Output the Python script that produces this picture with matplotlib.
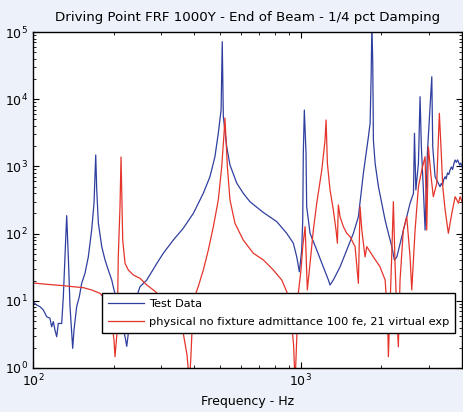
import matplotlib
matplotlib.use("Agg")
import matplotlib.pyplot as plt
from matplotlib.ticker import NullFormatter

# Test data (blue)
test_freq = [100, 103.2, 106.2, 109.3, 112.5, 115.7, 117.4, 119.1, 120.8, 122.6,
             124.3, 128, 129.8, 131.7, 133.6, 135.5, 137.5, 139.5, 140.7, 142.3,
             145.6, 148.9, 152, 156.4, 160.9, 165.6, 169, 171.5, 173, 175.4,
             180.6, 185.8, 191.1, 196.8, 200.7, 204.2, 211.3, 220.7, 223.9, 227,
             234.4, 251, 266, 290, 306.6, 334, 364, 397, 432.5, 458,
             478, 492, 504, 509, 513.8, 529, 544, 577, 610, 646,
             725, 813, 886, 938, 966, 988, 1008, 1017, 1022, 1031,
             1046, 1052, 1083, 1147, 1214, 1268, 1286, 1323, 1402, 1485,
             1572, 1641, 1713, 1789, 1815, 1831, 1843, 1857, 1867, 1895,
             1950, 2007, 2065, 2124, 2188, 2237, 2284, 2384, 2453, 2559,
             2635, 2658, 2690, 2750, 2789, 2820, 2870, 2912, 2970, 3085,
             3110, 3173, 3311, 3350, 3380, 3420, 3460, 3490, 3530, 3570,
             3610, 3650, 3690, 3730, 3770, 3810, 3850, 3880, 3920, 3960,
             3993, 4050]
test_mag = [9.7, 8.66, 8.17, 7.3, 5.8, 5.5, 4.1, 4.9, 3.68, 2.92,
            4.6, 4.6, 11.5, 45, 185, 45, 8.2, 3.3, 1.96, 3.7,
            8.2, 11.5, 18.2, 25.7, 45, 113, 283, 1480, 446, 144,
            64, 40.5, 28.7, 20.4, 14.5, 11.5, 6.1, 2.92, 2.1, 3.3,
            7.3, 16.2, 20.4, 36, 51, 80, 120, 200, 398, 703,
            1394, 3110, 6900, 71800, 5500, 1960, 1050, 561, 398, 298,
            206, 151, 101, 72, 45, 27, 57, 159, 1580, 6900,
            1580, 251, 101, 57, 32, 20.4, 17.2, 20.4, 32, 57,
            101, 178, 789, 2770, 4380, 21600, 130000, 34200, 2470, 1110,
            499, 283, 159, 101, 64, 40.5, 45, 90, 142, 283,
            398, 3110, 446, 1110, 10900, 1960, 446, 113, 1570, 21600,
            1960, 703, 499, 560, 520, 640, 703, 650, 800, 760,
            884, 980, 900, 1100, 1245, 1150, 1250, 1175, 1050, 1120,
            990, 950]

# FE model (red)
model_freq = [100, 112.5, 129.8, 141.4, 154.1, 165.6, 178, 187.4, 195.6, 200.7,
              202.4, 206.4, 208.2, 211.3, 213.2, 216.3, 220.7, 227, 237, 251,
              266, 281.4, 311, 339, 364, 376, 384, 389, 397, 414,
              432.5, 451.6, 471.5, 492, 506.8, 517, 521, 532, 544, 568,
              610, 665, 725, 790, 849, 886, 919, 940, 952, 964,
              979, 1002, 1017, 1038, 1058, 1083, 1114, 1147, 1198, 1232,
              1243, 1257, 1286, 1323, 1354, 1370, 1381, 1402, 1442, 1485,
              1528, 1595, 1641, 1665, 1690, 1738, 1764, 1867, 1977, 2065,
              2090, 2110, 2124, 2146, 2183, 2217, 2249, 2288, 2314, 2348,
              2415, 2487, 2559, 2597, 2672, 2750, 2830, 2912, 2954, 2996,
              3066, 3126, 3219, 3292, 3338, 3390, 3460, 3557, 3664, 3770,
              3880, 3935, 4020]
model_mag = [18.4, 17.6, 16.8, 16.2, 15.7, 14.5, 12.9, 10.3, 6.1, 2.6,
             1.47, 3.7, 45, 251, 1380, 80, 36, 28.7, 24.2, 21.6,
             17.2, 14.5, 10.3, 6.1, 3.3, 1.56, 0.6, 1.56, 10.3, 16.2,
             28.7, 57, 127, 316, 990, 3110, 5250, 990, 316, 142,
             80, 51, 40.5, 28.7, 20.4, 13.7, 6.1, 2.2, 0.6, 2.2,
             12.9, 28.7, 64, 127, 14.5, 36, 113, 283, 884, 2470,
             4900, 1110, 446, 224, 113, 72, 267, 178, 127, 101,
             90, 64, 18.2, 251, 113, 45, 64, 45, 32, 20.4,
             10.3, 5.2, 1.47, 5.2, 40.5, 298, 36, 5.2, 2.07, 20.4,
             113, 178, 45, 14.5, 113, 499, 884, 1394, 113, 1960,
             703, 354, 561, 6170, 1960, 499, 224, 101, 200, 354,
             283, 354, 285]

labels = ["Test Data", "physical no fixture admittance 100 fe, 21 virtual exp"]
BG = "#edf1f9"

plt.rcParams["font.family"] = "DejaVu Sans"
fig = plt.figure(figsize=(4.64, 4.12), dpi=100, facecolor=BG)
ax = fig.add_axes([0.0711, 0.1068, 0.9246, 0.8155])

ax.loglog(test_freq, test_mag, color="#2f3f9f", lw=0.9, label=labels[0])
ax.loglog(model_freq, model_mag, color="#e5352b", lw=0.9, label=labels[1])

ax.set_xlim(100, 4000)
ax.set_ylim(1, 1e5)
ax.tick_params(which="both", direction="in", top=True, right=True, labelsize=9)
ax.tick_params(which="major", length=4, width=0.8)
ax.tick_params(which="minor", length=2, width=0.6)
ax.xaxis.set_minor_formatter(NullFormatter())
ax.yaxis.set_minor_formatter(NullFormatter())
for s in ax.spines.values():
    s.set_linewidth(1.0)

ax.set_title("Driving Point FRF 1000Y - End of Beam - 1/4 pct Damping", fontsize=9.6, pad=8)
ax.set_xlabel("Frequency - Hz", fontsize=9)

leg = ax.legend(loc="lower left", bbox_to_anchor=(0.161, 0.104), borderaxespad=0,
                fontsize=8.2, fancybox=False, framealpha=1, edgecolor="black",
                handlelength=3.2, handletextpad=0.4, labelspacing=0.75,
                borderpad=0.5)
leg.get_frame().set_linewidth(1.0)

fig.savefig("out.png", dpi=100, facecolor=BG)
